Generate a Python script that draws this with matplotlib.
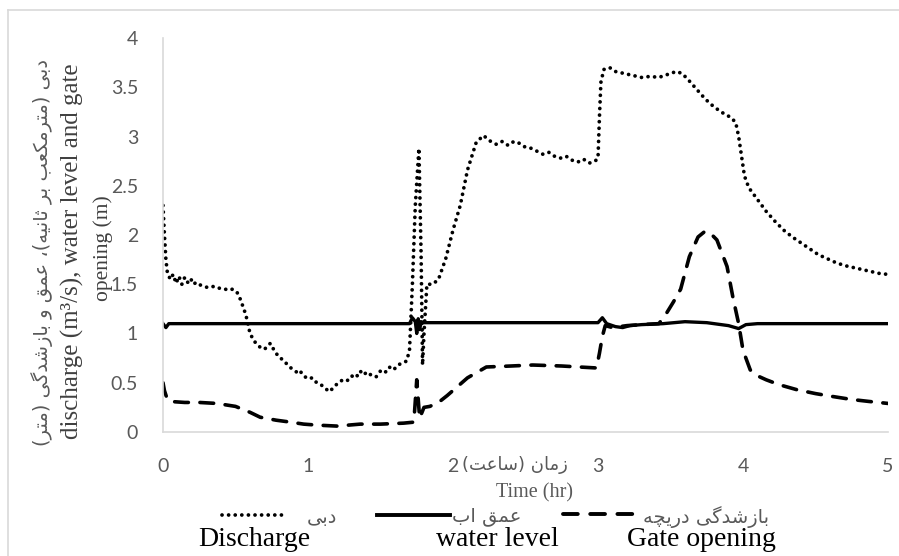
import matplotlib
matplotlib.use("Agg")
import matplotlib.pyplot as plt
from matplotlib.lines import Line2D

# ---------------- data ----------------
discharge_t = [0.00, 0.01, 0.02, 0.03, 0.05, 0.07, 0.09, 0.11, 0.13, 0.15, 0.17, 0.19, 0.21, 0.23,
               0.26, 0.30, 0.34, 0.37, 0.41, 0.45, 0.48, 0.51, 0.53, 0.56, 0.58, 0.60, 0.63, 0.67,
               0.70, 0.74, 0.77, 0.80, 0.83, 0.86, 0.89, 0.92, 0.94, 0.97, 1.00, 1.03, 1.06, 1.09,
               1.12, 1.15, 1.18, 1.21, 1.24, 1.27, 1.30, 1.33, 1.36, 1.38, 1.41, 1.44, 1.47, 1.50,
               1.53, 1.56, 1.59, 1.62, 1.65, 1.68, 1.70, 1.72, 1.74, 1.765, 1.78, 1.79, 1.80, 1.82,
               1.86, 1.90, 1.95, 2.00, 2.05, 2.10, 2.16, 2.21, 2.26, 2.30, 2.34, 2.38, 2.42, 2.46,
               2.50, 2.54, 2.58, 2.62, 2.66, 2.70, 2.74, 2.78, 2.82, 2.86, 2.90, 2.94, 2.98, 3.00,
               3.01, 3.02, 3.04, 3.08, 3.12, 3.18, 3.24, 3.30, 3.36, 3.42, 3.48, 3.54, 3.58, 3.62,
               3.68, 3.74, 3.80, 3.86, 3.92, 3.95, 3.97, 3.99, 4.01, 4.04, 4.10, 4.16, 4.22, 4.28,
               4.34, 4.40, 4.46, 4.52, 4.58, 4.64, 4.70, 4.76, 4.82, 4.88, 4.94, 5.00]
discharge_q = [2.30, 2.00, 1.75, 1.62, 1.55, 1.60, 1.51, 1.58, 1.50, 1.57, 1.52, 1.56, 1.50, 1.52,
               1.49, 1.47, 1.48, 1.46, 1.46, 1.44, 1.45, 1.42, 1.36, 1.24, 1.14, 1.00, 0.92, 0.86,
               0.84, 0.90, 0.82, 0.76, 0.73, 0.68, 0.64, 0.61, 0.63, 0.57, 0.54, 0.55, 0.50, 0.48,
               0.44, 0.41, 0.46, 0.50, 0.53, 0.52, 0.57, 0.55, 0.62, 0.58, 0.61, 0.57, 0.56, 0.62,
               0.60, 0.66, 0.63, 0.68, 0.70, 0.72, 0.83, 1.50, 2.30, 2.88, 1.80, 0.68, 1.00, 1.50,
               1.50, 1.55, 1.76, 2.05, 2.30, 2.66, 2.94, 3.01, 2.95, 2.92, 2.95, 2.91, 2.95, 2.93,
               2.89, 2.88, 2.85, 2.82, 2.84, 2.80, 2.78, 2.80, 2.76, 2.74, 2.77, 2.73, 2.75, 2.78,
               3.20, 3.55, 3.68, 3.70, 3.66, 3.64, 3.62, 3.60, 3.61, 3.60, 3.63, 3.66, 3.64, 3.58,
               3.48, 3.38, 3.30, 3.24, 3.19, 3.14, 3.00, 2.80, 2.60, 2.48, 2.36, 2.24, 2.14, 2.05,
               1.98, 1.92, 1.86, 1.80, 1.76, 1.72, 1.69, 1.67, 1.65, 1.63, 1.61, 1.60]

level_t = [0.00, 0.02, 0.04, 0.50, 1.00, 1.50, 1.70, 1.72, 1.74, 1.75, 1.76, 1.77, 1.78, 1.80,
           2.50, 3.00, 3.03, 3.06, 3.12, 3.17, 3.22, 3.30, 3.45, 3.60, 3.75, 3.90, 3.97, 4.02,
           4.10, 4.50, 5.00]
level_h = [1.10, 1.06, 1.10, 1.10, 1.10, 1.10, 1.10, 1.16, 1.12, 1.00, 1.15, 1.04, 1.12, 1.11,
           1.11, 1.11, 1.16, 1.10, 1.07, 1.06, 1.08, 1.09, 1.10, 1.12, 1.11, 1.08, 1.05, 1.09,
           1.10, 1.10, 1.10]

gate_t = [0.00, 0.01, 0.03, 0.05, 0.15, 0.25, 0.37, 0.50, 0.60, 0.67, 0.78, 0.88, 0.97, 1.06,
          1.20, 1.36, 1.50, 1.66, 1.73, 1.75, 1.77, 1.80, 1.84, 1.90, 1.96, 2.03, 2.10, 2.23,
          2.40, 2.55, 2.75, 2.99, 3.01, 3.03, 3.05, 3.10, 3.20, 3.30, 3.42, 3.47, 3.52, 3.57,
          3.63, 3.69, 3.74, 3.78, 3.82, 3.89, 3.93, 3.97, 4.00, 4.05, 4.10, 4.16, 4.25, 4.37,
          4.50, 4.62, 4.75, 4.87, 5.00]
gate_o = [0.50, 0.42, 0.33, 0.31, 0.30, 0.30, 0.29, 0.26, 0.20, 0.15, 0.12, 0.10, 0.08, 0.07,
          0.06, 0.08, 0.08, 0.09, 0.10, 0.53, 0.14, 0.25, 0.26, 0.30, 0.37, 0.46, 0.55, 0.66,
          0.67, 0.68, 0.67, 0.65, 0.80, 0.97, 1.08, 1.06, 1.08, 1.09, 1.10, 1.20, 1.32, 1.45,
          1.78, 1.98, 2.04, 2.01, 1.95, 1.68, 1.37, 1.10, 0.83, 0.63, 0.57, 0.53, 0.48, 0.43,
          0.39, 0.36, 0.33, 0.31, 0.29]

y_ticks = [0, 0.5, 1, 1.5, 2, 2.5, 3, 3.5, 4]
y_tick_labels = ["0", "0.5", "1", "1.5", "2", "2.5", "3", "3.5", "4"]
x_ticks = [0, 1, 2, 3, 4, 5]
x_tick_labels = ["0", "1", "2", "3", "4", "5"]

fa_ylabel = "دبی (مترمکعب بر ثانیه)، عمق و بازشدگی (متر)"
en_ylabel_1 = "discharge (m³/s), water level and gate"
en_ylabel_2 = "opening (m)"
fa_xlabel = "زمان (ساعت)"
en_xlabel = "Time (hr)"
fa_legend = ["دبی", "عمق اب", "بازشدگی دریچه"]
en_legend = ["Discharge", "water level", "Gate opening"]

# ------------- simple Persian shaping (presentation forms, visual order) -------------
FORMS = {
    'ا': ('\uFE8D', '\uFE8E', None, None),
    'ب': ('\uFE8F', '\uFE90', '\uFE91', '\uFE92'),
    'ت': ('\uFE95', '\uFE96', '\uFE97', '\uFE98'),
    'ث': ('\uFE99', '\uFE9A', '\uFE9B', '\uFE9C'),
    'چ': ('\uFB7A', '\uFB7B', '\uFB7C', '\uFB7D'),
    'د': ('\uFEA9', '\uFEAA', None, None),
    'ر': ('\uFEAD', '\uFEAE', None, None),
    'ز': ('\uFEAF', '\uFEB0', None, None),
    'س': ('\uFEB1', '\uFEB2', '\uFEB3', '\uFEB4'),
    'ش': ('\uFEB5', '\uFEB6', '\uFEB7', '\uFEB8'),
    'ع': ('\uFEC9', '\uFECA', '\uFECB', '\uFECC'),
    'ق': ('\uFED5', '\uFED6', '\uFED7', '\uFED8'),
    'ک': ('\uFB8E', '\uFB8F', '\uFB90', '\uFB91'),
    'گ': ('\uFB92', '\uFB93', '\uFB94', '\uFB95'),
    'م': ('\uFEE1', '\uFEE2', '\uFEE3', '\uFEE4'),
    'ن': ('\uFEE5', '\uFEE6', '\uFEE7', '\uFEE8'),
    'ه': ('\uFEE9', '\uFEEA', '\uFEEB', '\uFEEC'),
    'و': ('\uFEED', '\uFEEE', None, None),
    'ی': ('\uFBFC', '\uFBFD', '\uFBFE', '\uFBFF'),
}


def shape_fa(text):
    out = []
    n = len(text)
    for i, ch in enumerate(text):
        if ch not in FORMS:
            out.append(ch)
            continue
        f = FORMS[ch]
        prev_j = i > 0 and text[i - 1] in FORMS and FORMS[text[i - 1]][2] is not None
        next_j = i + 1 < n and text[i + 1] in FORMS and f[2] is not None
        if prev_j and next_j:
            out.append(f[3])
        elif prev_j:
            out.append(f[1])
        elif next_j:
            out.append(f[2])
        else:
            out.append(f[0])
    mirror = {'(': ')', ')': '('}
    return ''.join(mirror.get(c, c) for c in reversed(out))


# ---------------- figure ----------------
W, H = 899, 556
fig = plt.figure(figsize=(W / 100, H / 100), dpi=100)


def px(x, y):
    return x / W, 1 - y / H


ax = fig.add_axes([163 / W, 1 - 432 / H, 725 / W, 394 / H])
ax.set_xlim(0, 5)
ax.set_ylim(0, 4)

DOT = (0, (0.01, 1.75))
DASH = (0, (3.8, 3.2))
ax.plot(discharge_t, discharge_q, color='black', lw=2.7,
        linestyle=DOT, dash_capstyle='round', solid_joinstyle='round')
ax.plot(level_t, level_h, color='black', lw=2.4, solid_joinstyle='round')
ax.plot(gate_t, gate_o, color='black', lw=2.6,
        linestyle=DASH, dash_capstyle='round')

grey_axis = '#d9d9d9'
for s in ['top', 'right']:
    ax.spines[s].set_visible(False)
for s in ['left', 'bottom']:
    ax.spines[s].set_color(grey_axis)
    ax.spines[s].set_linewidth(1.2)

tick_font = dict(family='Lato', size=14, color='#595959')
ax.set_yticks(y_ticks)
ax.set_yticklabels(y_tick_labels, **tick_font)
ax.set_xticks(x_ticks)
ax.set_xticklabels(x_tick_labels, **tick_font)
ax.tick_params(axis='both', length=0)
ax.tick_params(axis='y', pad=18)
ax.tick_params(axis='x', pad=19)

fa_font = ['DejaVu Sans']
serif = ['Liberation Serif', 'DejaVu Serif']

# y labels
fig.text(*px(42, 252), shape_fa(fa_ylabel), rotation=90, ha='center', va='center',
         family=fa_font, size=14, color='#595959')
fig.text(*px(72, 251), en_ylabel_1, rotation=90, ha='center', va='center',
         family=serif, size=18, color='#404040')
fig.text(*px(103, 248), en_ylabel_2, rotation=90, ha='center', va='center',
         family=serif, size=15.5, color='#404040')

# x labels
fig.text(*px(515, 465), shape_fa(fa_xlabel), ha='center', va='center',
         family=fa_font, size=13, color='#595959')
fig.text(*px(535, 493), en_xlabel, ha='center', va='center',
         family=serif, size=14.5, color='#595959')

# legend (manual)
samples = [
    dict(x0=222, x1=288, y=515, ls=DOT, lw=2.7),
    dict(x0=377, x1=450, y=515, ls='-', lw=2.8),
    dict(x0=563, x1=635, y=514, ls=DASH, lw=2.8),
]
for s in samples:
    (xa, ya), (xb, yb) = px(s['x0'], s['y']), px(s['x1'], s['y'])
    fig.add_artist(Line2D([xa, xb], [ya, yb], color='black', lw=s['lw'],
                          linestyle=s['ls'], dash_capstyle='round'))

fa_pos = [(322, 518), (487, 517), (706, 517)]
for (x, y), lab in zip(fa_pos, fa_legend):
    fig.text(*px(x, y), shape_fa(lab), ha='center', va='center',
             family=fa_font, size=14, color='#595959')

en_pos = [(254, 540), (497, 540), (701, 540)]
for (x, y), lab in zip(en_pos, en_legend):
    fig.text(*px(x, y), lab, ha='center', va='center', family=serif, size=20, color='black')

# outer frame (left and top edges visible)
fig.add_artist(Line2D([8 / W, 8 / W], [0, 1 - 10 / H], color=grey_axis, lw=1.2))
fig.add_artist(Line2D([8 / W, 1], [1 - 10 / H, 1 - 10 / H], color=grey_axis, lw=1.2))

fig.savefig('out.png', dpi=100)
